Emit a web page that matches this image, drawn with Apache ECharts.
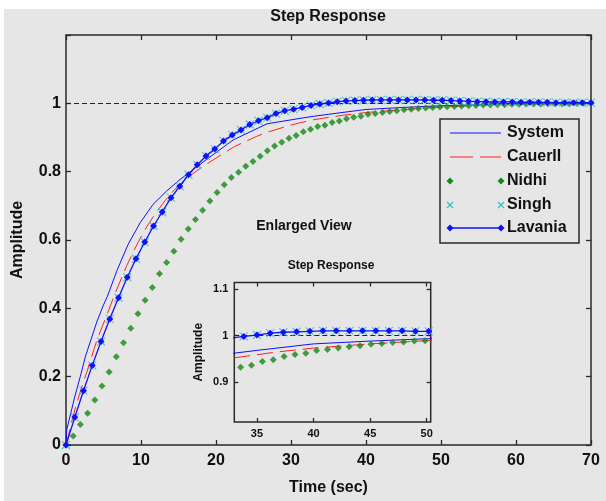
<!DOCTYPE html>
<html><head><meta charset="utf-8">
<script src="https://cdn.jsdelivr.net/npm/echarts@6/dist/echarts.min.js"></script>
<style>html,body{margin:0;padding:0;background:#fff;}#c{width:606px;height:501px;}</style>
</head><body><div id="c"></div>
<script>
// ---- data ----
const systemT = [0, 0.1, 1.2, 1.9, 2.6, 3.4, 4.1, 5, 5.5, 6.8, 8.3, 9.9, 11.6, 13.4, 15.2, 17.9, 22.3, 26.8, 31.2, 33, 35, 40, 45, 50, 55, 60, 65, 70];
const systemY = [0, 0.045, 0.144, 0.2, 0.26, 0.313, 0.36, 0.41, 0.434, 0.511, 0.588, 0.651, 0.704, 0.743, 0.777, 0.822, 0.893, 0.94, 0.956, 0.962, 0.968, 0.982, 0.988, 0.993, 0.996, 0.998, 0.999, 0.999];

const cauerT = [0, 1.2, 2.1, 2.8, 3.3, 4.1, 4.8, 5.7, 6.3, 7.2, 8.1, 9, 9.9, 10.8, 12, 13.2, 14.5, 16, 18.3, 21.4, 22.5, 25.4, 26.5, 29.6, 30.6, 33, 34.2, 36.9, 40, 45, 50, 55, 60, 65, 70];
const cauerY = [0, 0.105, 0.17, 0.215, 0.25, 0.305, 0.345, 0.395, 0.43, 0.478, 0.525, 0.567, 0.605, 0.64, 0.68, 0.715, 0.748, 0.78, 0.816, 0.859, 0.874, 0.903, 0.913, 0.934, 0.94, 0.952, 0.956, 0.965, 0.973, 0.982, 0.989, 0.994, 0.997, 0.998, 0.999];

const nidhiT = [0, 0.96, 1.92, 2.88, 3.84, 4.79, 5.75, 6.71, 7.67, 8.63, 9.59, 10.55, 11.51, 12.47, 13.42, 14.38, 15.34, 16.3, 17.26, 18.22, 19.18, 20.14, 21.1, 22.05, 23.01, 23.97, 24.93, 25.89, 26.85, 27.81, 28.77, 29.73, 30.68, 31.64, 32.6, 33.56, 34.52, 35.48, 36.44, 37.4, 38.36, 39.32, 40.27, 41.23, 42.19, 43.15, 44.11, 45.07, 46.03, 46.99, 47.95, 48.9, 49.86, 50.82, 51.78, 52.74, 53.7, 54.66, 55.62, 56.58, 57.53, 58.49, 59.45, 60.41, 61.37, 62.33, 63.29, 64.25, 65.21, 66.16, 67.12, 68.08, 69.04, 70];
const nidhiY = [0, 0.026, 0.060, 0.093, 0.132, 0.173, 0.214, 0.258, 0.299, 0.342, 0.384, 0.424, 0.461, 0.501, 0.534, 0.567, 0.602, 0.632, 0.660, 0.687, 0.714, 0.739, 0.762, 0.783, 0.798, 0.816, 0.830, 0.845, 0.861, 0.875, 0.886, 0.898, 0.906, 0.917, 0.924, 0.932, 0.936, 0.944, 0.948, 0.955, 0.959, 0.962, 0.968, 0.970, 0.973, 0.976, 0.978, 0.981, 0.983, 0.985, 0.986, 0.988, 0.989, 0.990, 0.991, 0.992, 0.993, 0.994, 0.995, 0.995, 0.996, 0.996, 0.997, 0.997, 0.998, 0.998, 0.998, 0.999, 0.999, 0.999, 0.999, 1.000, 1.000, 1.000];

const lavaniaT = [0, 1.17, 2.33, 3.5, 4.67, 5.83, 7, 8.17, 9.33, 10.5, 11.67, 12.83, 14, 15.17, 16.33, 17.5, 18.67, 19.83, 21, 22.17, 23.33, 24.5, 25.67, 26.83, 28, 29.17, 30.33, 31.5, 32.67, 33.83, 35, 36.17, 37.33, 38.5, 39.67, 40.83, 42, 43.17, 44.33, 45.5, 46.67, 47.83, 49, 50.17, 51.33, 52.5, 53.67, 54.83, 56, 57.17, 58.33, 59.5, 60.67, 61.83, 63, 64.17, 65.33, 66.5, 67.67, 68.83, 70];
const lavaniaY = [0, 0.081, 0.159, 0.233, 0.303, 0.369, 0.431, 0.491, 0.545, 0.594, 0.641, 0.682, 0.724, 0.757, 0.791, 0.820, 0.846, 0.866, 0.890, 0.907, 0.922, 0.938, 0.949, 0.958, 0.970, 0.978, 0.983, 0.988, 0.994, 0.998, 1.001, 1.005, 1.007, 1.008, 1.009, 1.010, 1.010, 1.010, 1.010, 1.010, 1.010, 1.010, 1.009, 1.009, 1.008, 1.007, 1.006, 1.005, 1.005, 1.004, 1.004, 1.004, 1.003, 1.003, 1.003, 1.003, 1.002, 1.002, 1.002, 1.002, 1.002];

const singhT = [0, 1.17, 2.33, 3.5, 4.67, 5.83, 7, 8.17, 9.33, 10.5, 11.67, 12.83, 14, 15.17, 16.33, 17.5, 18.67, 19.83, 21, 22.17, 23.33, 24.5, 25.67, 26.83, 28, 29.17, 30.33, 31.5, 32.67, 33.83, 35, 36.17, 37.33, 38.5, 39.67, 40.83, 42, 43.17, 44.33, 45.5, 46.67, 47.83, 49, 50.17, 51.33, 52.5, 53.67, 54.83, 56, 57.17, 58.33, 59.5, 60.67, 61.83, 63, 64.17, 65.33, 66.5, 67.67, 68.83, 70];
const singhY = [0, 0.081, 0.159, 0.233, 0.303, 0.369, 0.431, 0.491, 0.545, 0.594, 0.641, 0.682, 0.724, 0.757, 0.791, 0.820, 0.846, 0.866, 0.890, 0.907, 0.922, 0.938, 0.949, 0.958, 0.970, 0.978, 0.983, 0.988, 0.994, 0.998, 1.001, 1.005, 1.007, 1.008, 1.009, 1.010, 1.010, 1.010, 1.010, 1.010, 1.010, 1.010, 1.009, 1.009, 1.008, 1.007, 1.006, 1.005, 1.005, 1.004, 1.004, 1.004, 1.003, 1.003, 1.003, 1.003, 1.002, 1.002, 1.002, 1.002, 1.002];

const seriesNames = ['System', 'CauerII', 'Nidhi', 'Singh', 'Lavania'];
const referenceLevel = 1;
const insetXTicks = [35, 40, 45, 50];
const insetYTicks = [0.9, 1, 1.1];

// ---- chart ----
const pairs = (t, y) => t.map((v, i) => [v, y[i]]);
const FONT = '"Liberation Sans", Arial, sans-serif';
const GRAY = '#e6e6e6', FRAME = '#2a2a2a';
const BLUE = '#1010ff', RED = '#ff2020', GREEN = '#138a13', CYAN = '#33c4c4';
const X_PATH = 'path://M0,0L10,10M10,0L0,10';

const chart = echarts.init(document.getElementById('c'), null, {renderer: 'canvas'});

function tickIn(len, vals) {
  const t = {show: true, inside: true, length: len, lineStyle: {color: FRAME, width: 1.3}};
  if (vals) t.customValues = vals;
  return t;
}
function axisCommon(extra) {
  return Object.assign({
    type: 'value', z: 3,
    axisLine: {show: false, onZero: false},
    splitLine: {show: false},
  }, extra);
}

function seriesFor(xi, yi) {
  return [
    {name: seriesNames[0], type: 'line', xAxisIndex: xi, yAxisIndex: yi, data: pairs(systemT, systemY),
     showSymbol: false, symbol: 'none', lineStyle: {color: BLUE, width: 1}, z: 4,
     markLine: {silent: true, symbol: 'none', label: {show: false},
       lineStyle: {type: [5, 3], color: '#222', width: 1}, data: [{yAxis: referenceLevel}]}},
    {name: seriesNames[1], type: 'line', xAxisIndex: xi, yAxisIndex: yi, data: pairs(cauerT, cauerY),
     showSymbol: false, symbol: 'none', lineStyle: {color: RED, width: 1, type: [16, 7]}, z: 4},
    {name: seriesNames[2], type: 'scatter', xAxisIndex: xi, yAxisIndex: yi, data: pairs(nidhiT, nidhiY),
     symbol: 'diamond', symbolSize: 7, itemStyle: {color: GREEN}, z: 5},
    {name: seriesNames[3], type: 'scatter', xAxisIndex: xi, yAxisIndex: yi, data: pairs(singhT, singhY),
     symbol: X_PATH, symbolSize: 8, itemStyle: {color: 'transparent', borderColor: CYAN, borderWidth: 1.2}, z: 6},
    {name: seriesNames[4], type: 'line', xAxisIndex: xi, yAxisIndex: yi, data: pairs(lavaniaT, lavaniaY),
     symbol: 'diamond', symbolSize: 7, showSymbol: true, itemStyle: {color: BLUE}, lineStyle: {color: BLUE, width: 1.3}, z: 7},
  ];
}

const labelStyle = {color: '#111', fontFamily: FONT, fontWeight: 'bold', fontSize: 16};
const insetLabel = {color: '#111', fontFamily: FONT, fontWeight: 'bold', fontSize: 11};
const fmt = v => String(+(+v).toFixed(2));
const mainYFmt = v => (v > 1.1 ? '' : String(+(+v).toFixed(2)));

// legend drawn as graphic elements (MATLAB style)
const LX = 440, LY = 119, LW = 139, LH = 124;
const rowsY = [133, 157, 181, 205, 228];
const lx1 = 450, lx2 = 501;
function diamond(cx, cy, r, color) {
  return {type: 'polygon', shape: {points: [[cx, cy - r], [cx + r, cy], [cx, cy + r], [cx - r, cy]]}, style: {fill: color}, z: 101};
}
function xMark(cx, cy, r, color) {
  return [
    {type: 'line', shape: {x1: cx - r, y1: cy - r, x2: cx + r, y2: cy + r}, style: {stroke: color, lineWidth: 1.2}, z: 101},
    {type: 'line', shape: {x1: cx - r, y1: cy + r, x2: cx + r, y2: cy - r}, style: {stroke: color, lineWidth: 1.2}, z: 101},
  ];
}
const legendEls = [
  {type: 'rect', shape: {x: LX, y: LY, width: LW, height: LH}, style: {fill: GRAY, stroke: FRAME, lineWidth: 1.5}, z: 100},
  {type: 'line', shape: {x1: lx1, y1: rowsY[0], x2: lx2, y2: rowsY[0]}, style: {stroke: BLUE, lineWidth: 1.2}, z: 101},
  {type: 'line', shape: {x1: lx1, y1: rowsY[1], x2: lx2, y2: rowsY[1]}, style: {stroke: RED, lineWidth: 1.2, lineDash: [23, 7]}, z: 101},
  diamond(lx1, rowsY[2], 3.5, GREEN), diamond(lx2, rowsY[2], 3.5, GREEN),
  ...xMark(lx1, rowsY[3], 3, CYAN), ...xMark(lx2, rowsY[3], 3, CYAN),
  {type: 'line', shape: {x1: lx1, y1: rowsY[4], x2: lx2, y2: rowsY[4]}, style: {stroke: BLUE, lineWidth: 1.3}, z: 101},
  diamond(lx1, rowsY[4], 3.5, BLUE), diamond(lx2, rowsY[4], 3.5, BLUE),
  ...seriesNames.map((n, i) => ({type: 'text', x: 507, y: rowsY[i], z: 102,
     style: {text: n, fill: '#111', font: 'bold 16px ' + FONT, textVerticalAlign: 'middle', verticalAlign: 'middle'}})),
];

const option = {
  animation: false,
  backgroundColor: '#ffffff',
  grid: [
    {left: 66, top: 35, width: 525, height: 414.7, show: true, backgroundColor: GRAY, borderColor: FRAME, borderWidth: 1.5, z: 0},
    {left: 234.3, top: 282.5, width: 196.4, height: 139.5, show: true, backgroundColor: GRAY, borderColor: FRAME, borderWidth: 1.5, z: 1},
  ],
  xAxis: [
    axisCommon({gridIndex: 0, min: 0, max: 70, interval: 10, position: 'bottom',
      axisLabel: Object.assign({margin: 8}, labelStyle),
      axisTick: tickIn(5),
      name: 'Time (sec)', nameLocation: 'middle', nameGap: 35, nameTextStyle: labelStyle}),
    axisCommon({gridIndex: 0, min: 0, max: 70, interval: 10, position: 'top', axisLabel: {show: false},
      axisTick: tickIn(5)}),
    axisCommon({gridIndex: 1, min: 33, max: 50.35, position: 'bottom',
      axisLabel: Object.assign({margin: 6, customValues: insetXTicks}, insetLabel),
      axisTick: tickIn(4, insetXTicks)}),
    axisCommon({gridIndex: 1, min: 33, max: 50.35, position: 'top', axisLabel: {show: false},
      axisTick: tickIn(4, insetXTicks)}),
  ],
  yAxis: [
    axisCommon({gridIndex: 0, min: 0, max: 1.2, interval: 0.2, position: 'left',
      axisLabel: Object.assign({margin: 5, formatter: mainYFmt}, labelStyle),
      axisTick: tickIn(5),
      name: 'Amplitude', nameLocation: 'middle', nameGap: 40, nameRotate: 90, nameTextStyle: labelStyle}),
    axisCommon({gridIndex: 0, min: 0, max: 1.2, interval: 0.2, position: 'right', axisLabel: {show: false},
      axisTick: tickIn(5)}),
    axisCommon({gridIndex: 1, min: 0.814, max: 1.114, position: 'left',
      axisLabel: Object.assign({margin: 6, customValues: insetYTicks, formatter: fmt}, insetLabel),
      axisTick: tickIn(4, insetYTicks),
      name: 'Amplitude', nameLocation: 'middle', nameGap: 30, nameRotate: 90, nameTextStyle: Object.assign({}, insetLabel, {fontSize: 12})}),
    axisCommon({gridIndex: 1, min: 0.814, max: 1.114, position: 'right', axisLabel: {show: false},
      axisTick: tickIn(4, insetYTicks)}),
  ],
  graphic: [
    {type: 'rect', shape: {x: 4, y: 9, width: 602, height: 492}, style: {fill: GRAY}, z: -10, silent: true},
    {type: 'text', x: 328, y: 17, z: 50, style: {text: 'Step Response', fill: '#111', font: 'bold 16px ' + FONT, textAlign: 'center', textVerticalAlign: 'middle', align: 'center', verticalAlign: 'middle'}},
    {type: 'text', x: 304, y: 226, z: 50, style: {text: 'Enlarged View', fill: '#111', font: 'bold 14px ' + FONT, textAlign: 'center', textVerticalAlign: 'middle', align: 'center', verticalAlign: 'middle'}},
    {type: 'text', x: 331, y: 266, z: 50, style: {text: 'Step Response', fill: '#111', font: 'bold 12px ' + FONT, textAlign: 'center', textVerticalAlign: 'middle', align: 'center', verticalAlign: 'middle'}},
    ...legendEls,
  ],
  series: [...seriesFor(0, 0), ...seriesFor(2, 2)],
};
chart.setOption(option);
</script></body></html>
